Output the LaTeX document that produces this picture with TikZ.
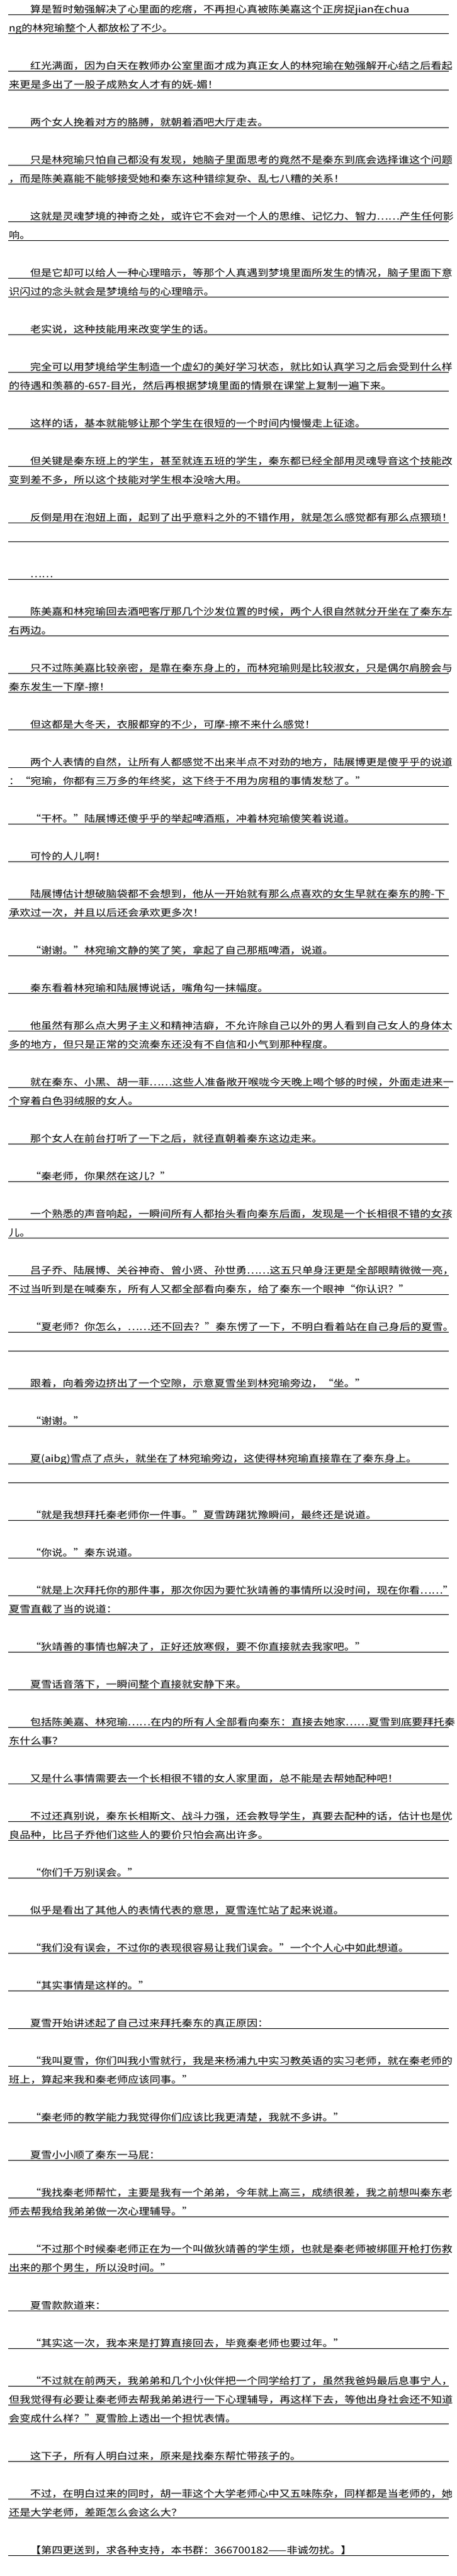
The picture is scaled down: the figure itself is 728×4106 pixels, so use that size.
\documentclass[tikz,border=0pt]{standalone}
\usepackage{fontspec}
\newfontfamily\cjk[FakeStretch=1.15]{Noto Sans CJK SC}
\begin{document}
\begin{tikzpicture}[x=1pt,y=-1pt,line cap=butt,
	rule/.style={line width=1pt},
	txt/.style={inner sep=0pt,anchor=base west,font=\cjk\fontsize{15}{15}\selectfont}]
	\fill[white] (0,0) rectangle (728,4106);
	\useasboundingbox (0,0) rectangle (728,4106);
	% row / left edge / text  (48 = indented first line, 14 = following line)
	\foreach \k/\x/\t in {
		0/48/{算是暂时勉强解决了心里面的疙瘩，不再担心真被陈美嘉这个正房捉jian在chua},
		1/14/{ng的林宛瑜整个人都放松了不少。},
		3/48/{红光满面，因为白天在教师办公室里面才成为真正女人的林宛瑜在勉强解开心结之后看起},
		4/14/{来更是多出了一股子成熟女人才有的妩-媚！},
		6/48/{两个女人挽着对方的胳膊，就朝着酒吧大厅走去。},
		8/48/{只是林宛瑜只怕自己都没有发现，她脑子里面思考的竟然不是秦东到底会选择谁这个问题},
		9/14/{，而是陈美嘉能不能够接受她和秦东这种错综复杂、乱七八糟的关系！},
		11/48/{这就是灵魂梦境的神奇之处，或许它不会对一个人的思维、记忆力、智力……产生任何影},
		12/14/{响。},
		14/48/{但是它却可以给人一种心理暗示，等那个人真遇到梦境里面所发生的情况，脑子里面下意},
		15/14/{识闪过的念头就会是梦境给与的心理暗示。},
		17/48/{老实说，这种技能用来改变学生的话。},
		19/48/{完全可以用梦境给学生制造一个虚幻的美好学习状态，就比如认真学习之后会受到什么样},
		20/14/{的待遇和羡慕的-657-目光，然后再根据梦境里面的情景在课堂上复制一遍下来。},
		22/48/{这样的话，基本就能够让那个学生在很短的一个时间内慢慢走上征途。},
		24/48/{但关键是秦东班上的学生，甚至就连五班的学生，秦东都已经全部用灵魂导音这个技能改},
		25/14/{变到差不多，所以这个技能对学生根本没啥大用。},
		27/48/{反倒是用在泡妞上面，起到了出乎意料之外的不错作用，就是怎么感觉都有那么点猥琐！},
		28/14/{},
		30/48/{……},
		32/48/{陈美嘉和林宛瑜回去酒吧客厅那几个沙发位置的时候，两个人很自然就分开坐在了秦东左},
		33/14/{右两边。},
		35/48/{只不过陈美嘉比较亲密，是靠在秦东身上的，而林宛瑜则是比较淑女，只是偶尔肩膀会与},
		36/14/{秦东发生一下摩-擦！},
		38/48/{但这都是大冬天，衣服都穿的不少，可摩-擦不来什么感觉！},
		40/48/{两个人表情的自然，让所有人都感觉不出来半点不对劲的地方，陆展博更是傻乎乎的说道},
		41/14/{：“宛瑜，你都有三万多的年终奖，这下终于不用为房租的事情发愁了。”},
		43/48/{“干杯。”陆展博还傻乎乎的举起啤酒瓶，冲着林宛瑜傻笑着说道。},
		45/48/{可怜的人儿啊！},
		47/48/{陆展博估计想破脑袋都不会想到，他从一开始就有那么点喜欢的女生早就在秦东的胯-下},
		48/14/{承欢过一次，并且以后还会承欢更多次！},
		50/48/{“谢谢。”林宛瑜文静的笑了笑，拿起了自己那瓶啤酒，说道。},
		52/48/{秦东看着林宛瑜和陆展博说话，嘴角勾一抹幅度。},
		54/48/{他虽然有那么点大男子主义和精神洁癖，不允许除自己以外的男人看到自己女人的身体太},
		55/14/{多的地方，但只是正常的交流秦东还没有不自信和小气到那种程度。},
		57/48/{就在秦东、小黑、胡一菲……这些人准备敞开喉咙今天晚上喝个够的时候，外面走进来一},
		58/14/{个穿着白色羽绒服的女人。},
		60/48/{那个女人在前台打听了一下之后，就径直朝着秦东这边走来。},
		62/48/{“秦老师，你果然在这儿？”},
		64/48/{一个熟悉的声音响起，一瞬间所有人都抬头看向秦东后面，发现是一个长相很不错的女孩},
		65/14/{儿。},
		67/48/{吕子乔、陆展博、关谷神奇、曾小贤、孙世勇……这五只单身汪更是全部眼睛微微一亮，},
		68/14/{不过当听到是在喊秦东，所有人又都全部看向秦东，给了秦东一个眼神“你认识？”},
		70/48/{“夏老师？你怎么，……还不回去？”秦东愣了一下，不明白看着站在自己身后的夏雪。},
		71/14/{},
		73/48/{跟着，向着旁边挤出了一个空隙，示意夏雪坐到林宛瑜旁边，“坐。”},
		75/48/{“谢谢。”},
		77/48/{夏(aibg)雪点了点头，就坐在了林宛瑜旁边，这使得林宛瑜直接靠在了秦东身上。},
		78/14/{},
		80/48/{“就是我想拜托秦老师你一件事。”夏雪踌躇犹豫瞬间，最终还是说道。},
		82/48/{“你说。”秦东说道。},
		84/48/{“就是上次拜托你的那件事，那次你因为要忙狄靖善的事情所以没时间，现在你看……”},
		85/14/{夏雪直截了当的说道：},
		87/48/{“狄靖善的事情也解决了，正好还放寒假，要不你直接就去我家吧。”},
		89/48/{夏雪话音落下，一瞬间整个直接就安静下来。},
		91/48/{包括陈美嘉、林宛瑜……在内的所有人全部看向秦东：直接去她家……夏雪到底要拜托秦},
		92/14/{东什么事？},
		94/48/{又是什么事情需要去一个长相很不错的女人家里面，总不能是去帮她配种吧！},
		96/48/{不过还真别说，秦东长相斯文、战斗力强，还会教导学生，真要去配种的话，估计也是优},
		97/14/{良品种，比吕子乔他们这些人的要价只怕会高出许多。},
		99/48/{“你们千万别误会。”},
		101/48/{似乎是看出了其他人的表情代表的意思，夏雪连忙站了起来说道。},
		103/48/{“我们没有误会，不过你的表现很容易让我们误会。”一个个人心中如此想道。},
		105/48/{“其实事情是这样的。”},
		107/48/{夏雪开始讲述起了自己过来拜托秦东的真正原因：},
		109/48/{“我叫夏雪，你们叫我小雪就行，我是来杨浦九中实习教英语的实习老师，就在秦老师的},
		110/14/{班上，算起来我和秦老师应该同事。”},
		112/48/{“秦老师的教学能力我觉得你们应该比我更清楚，我就不多讲。”},
		114/48/{夏雪小小顺了秦东一马屁：},
		116/48/{“我找秦老师帮忙，主要是我有一个弟弟，今年就上高三，成绩很差，我之前想叫秦东老},
		117/14/{师去帮我给我弟弟做一次心理辅导。”},
		119/48/{“不过那个时候秦老师正在为一个叫做狄靖善的学生烦，也就是秦老师被绑匪开枪打伤救},
		120/14/{出来的那个男生，所以没时间。”},
		122/48/{夏雪款款道来：},
		124/48/{“其实这一次，我本来是打算直接回去，毕竟秦老师也要过年。”},
		126/48/{“不过就在前两天，我弟弟和几个小伙伴把一个同学给打了，虽然我爸妈最后息事宁人，},
		127/14/{但我觉得有必要让秦老师去帮我弟弟进行一下心理辅导，再这样下去，等他出身社会还不知道},
		128/14/{会变成什么样？”夏雪脸上透出一个担忧表情。},
		130/48/{这下子，所有人明白过来，原来是找秦东帮忙带孩子的。},
		132/48/{不过，在明白过来的同时，胡一菲这个大学老师心中又五味陈杂，同样都是当老师的，她},
		133/14/{还是大学老师，差距怎么会这么大？},
		135/48/{【第四更送到，求各种支持，本书群：366700182——非诚勿扰。】}
	}{
		\draw[rule] (13,{23.33+30*\k}) -- (715,{23.33+30*\k});
		\node[txt] (r\k) at (\x,{20.8+30*\k}) {\t};
	}
\end{tikzpicture}
\end{document}
